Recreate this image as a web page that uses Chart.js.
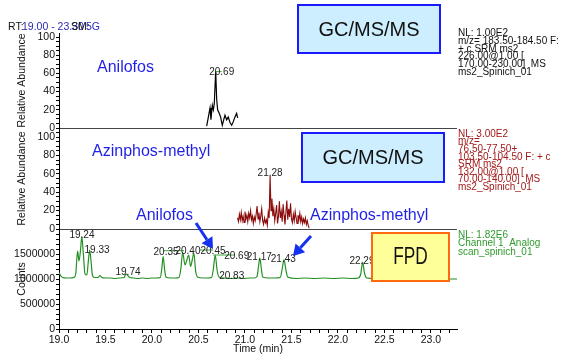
<!DOCTYPE html>
<html>
<head>
<meta charset="utf-8">
<title>GC/MS/MS and FPD chromatograms</title>
<script src="https://cdn.jsdelivr.net/npm/chart.js@4.4.1/dist/chart.umd.min.js"></script>
<style>
  html, body { margin: 0; padding: 0; background: #fff; }
  #wrap { width: 561px; height: 356px; }
</style>
</head>
<body>
<div id="wrap"><canvas id="chromatogram" width="561" height="356"></canvas></div>
<script>
const FONT = '"Liberation Sans", Arial, sans-serif';

// Anilofos SRM trace (relative abundance, %)
const timeAnilofos = [20.588, 20.606, 20.624, 20.634, 20.649, 20.66, 20.67, 20.685, 20.696, 20.706, 20.724, 20.738,
  20.756, 20.771, 20.785, 20.803, 20.82, 20.839, 20.857, 20.874, 20.892, 20.91, 20.921];
const abundAnilofos = [2, 12, 22, 9, 25, 20, 27, 62, 31, 20, 16, 12, 3, 9, 14, 9, 12, 6, 3, 7, 12, 16, 11];

// Azinphos-methyl SRM trace (relative abundance, %)
const timeAzinphos = [20.92, 20.93, 20.94, 20.95, 20.96, 20.97, 20.98, 20.99, 21.00, 21.01, 21.02, 21.03, 21.04,
  21.05, 21.06, 21.07, 21.08, 21.09, 21.10, 21.11, 21.12, 21.13, 21.14, 21.15, 21.16, 21.17, 21.18, 21.19, 21.20,
  21.21, 21.22, 21.23, 21.24, 21.25, 21.26, 21.27, 21.28, 21.29, 21.30, 21.31, 21.32, 21.33, 21.34, 21.35, 21.36,
  21.37, 21.38, 21.39, 21.40, 21.41, 21.42, 21.43, 21.44, 21.45, 21.46, 21.47, 21.48, 21.49, 21.50, 21.51, 21.52,
  21.53, 21.54, 21.55, 21.56, 21.57, 21.58, 21.59, 21.60, 21.61, 21.62, 21.63, 21.64, 21.65, 21.66, 21.67, 21.68, 21.69];
const abundAzinphos = [12, 8, 16, 10, 18, 9, 14, 7, 19, 11, 15, 8, 17,
  12, 20, 10, 14, 6, 13, 9, 16, 25, 11, 18, 8, 14, 22, 9, 5,
  12, 7, 10, 4, 18, 12, 58, 20, 33, 14, 22, 9, 17, 26, 6, 14,
  30, 12, 19, 8, 27, 15, 5, 18, 31, 10, 22, 13, 28, 11, 7, 16,
  9, 19, 12, 6, 15, 10, 17, 8, 13, 6, 11, 7, 12, 5, 9, 4, 1];

// FPD trace (counts)
const timeFpd = [19.00, 19.02, 19.04, 19.08, 19.12, 19.16, 19.18, 19.20, 19.215, 19.23, 19.245, 19.26, 19.28, 19.30,
  19.315, 19.33, 19.345, 19.36, 19.38, 19.42, 19.44, 19.46, 19.50, 19.55, 19.60, 19.65, 19.70, 19.72, 19.745, 19.76,
  19.80, 19.85, 19.90, 19.95, 20.00, 20.05, 20.09, 20.105, 20.12, 20.135, 20.15, 20.20, 20.25, 20.29, 20.31, 20.33,
  20.355, 20.375, 20.395, 20.415, 20.435, 20.45, 20.47, 20.49, 20.55, 20.60, 20.64, 20.66, 20.68, 20.70, 20.72,
  20.78, 20.85, 20.92, 20.98, 21.05, 21.10, 21.13, 21.145, 21.16, 21.175, 21.19, 21.25, 21.32, 21.38, 21.40, 21.42,
  21.44, 21.46, 21.55, 21.65, 21.75, 21.85, 21.95, 22.05, 22.15, 22.22, 22.245, 22.265, 22.285, 22.31, 22.40, 22.50,
  22.60, 22.70, 22.80, 22.90, 23.00, 23.10, 23.20, 23.28];
const countsFpd = [1130000, 1060000, 1030000, 1020000, 1020000, 1030000, 1100000, 1560000, 1360000, 1550000, 1850000,
  1550000, 1100000, 1080000, 1350000, 1580000, 1350000, 1070000, 1030000, 1030000, 1070000, 1030000, 1020000, 1020000,
  1010000, 1020000, 1030000, 1100000, 1060000, 1030000, 1020000, 1010000, 1020000, 1010000, 1020000, 1020000, 1030000,
  1200000, 1450000, 1200000, 1040000, 1020000, 1020000, 1030000, 1200000, 1530000, 1280000, 1380000, 1480000, 1250000,
  1400000, 1520000, 1150000, 1040000, 1020000, 1020000, 1030000, 1200000, 1480000, 1180000, 1040000, 1020000, 1010000,
  1020000, 1010000, 1020000, 1020000, 1050000, 1250000, 1420000, 1220000, 1040000, 1020000, 1020000, 1030000, 1200000,
  1390000, 1180000, 1040000, 1010000, 1020000, 1010000, 1020000, 1010000, 1020000, 1010000, 1020000, 1100000, 1340000,
  1120000, 1020000, 1010000, 1010000, 1010000, 1000000, 1010000, 1000000, 1010000, 1000000, 1000000, 1000000];

// tick labels that are printed (others are minor ticks)
const timeTickLabels = ['19.0', '19.5', '20.0', '20.5', '21.0', '21.5', '22.0', '22.5', '23.0'];
const abundTickLabels = [0, 20, 40, 60, 80, 100];
const countTickLabels = [0, 500000, 1000000, 1500000];

// peak labels (time, height, text)
const anilofosPeaks = [{t: 20.75, v: 61.5, text: '20.69'}];
const azinphosPeaks = [{t: 21.27, v: 61, text: '21.28'}];
const fpdPeaks = [
  {t: 19.247, v: 1880000, text: '19.24'},
  {t: 19.409, v: 1580000, text: '19.33'},
  {t: 19.742, v: 1140000, text: '19.74'},
  {t: 20.151, v: 1540000, text: '20.35'},
  {t: 20.387, v: 1560000, text: '20.40'},
  {t: 20.656, v: 1546000, text: '20.45'},
  {t: 20.911, v: 1460000, text: '20.69'},
  {t: 20.857, v: 1060000, text: '20.83'},
  {t: 21.154, v: 1426000, text: '21.17'},
  {t: 21.412, v: 1394000, text: '21.43'},
  {t: 22.258, v: 1346000, text: '22.29'}
];
// green label leader lines (t1, t2, height)
const anilofosLeaders = [[20.677, 20.749, 62]];
const fpdLeaders = [[20.12, 20.344, 1566000], [20.516, 20.659, 1580000], [20.659, 20.892, 1480000]];

const notesAnilofos = ['NL: 1.00E2', 'm/z= 183.50-184.50 F:', '+ c SRM ms2', '226.00@1.00 [', '170.00-230.00]  MS', 'ms2_Spinich_01'];
const notesAzinphos = ['NL: 3.00E2', 'm/z=', '76.50-77.50+', '103.50-104.50 F: + c', 'SRM ms2', '132.00@1.00 [', '70.00-140.00]  MS', 'ms2_Spinich_01'];
const notesFpd = ['NL: 1.82E6', 'Channel 1  Analog', 'scan_spinich_01'];

const toXY = (ts, vs) => ts.map((t, i) => ({x: t, y: vs[i]}));

function yPanel(max, step, labels, weight, title) {
  return {
    type: 'linear', position: 'left', stack: 'panels', stackWeight: weight,
    min: 0, max: max,
    ticks: {
      stepSize: step, autoSkip: false, includeBounds: false, padding: 1,
      color: '#111', font: {family: FONT, size: 10.5},
      callback: v => labels.includes(Math.round(v)) ? String(Math.round(v)) : ''
    },
    grid: {
      drawOnChartArea: true, tickLength: 3, tickColor: '#000',
      color: c => (c.tick && c.tick.value === 0) ? '#444' : 'rgba(0,0,0,0)'
    },
    border: {color: '#000'},
    title: {display: true, text: title, color: '#111', font: {family: FONT, size: 10.5}, padding: {top: 16, bottom: 0}},
    afterFit(scale) { scale.width = 59; }
  };
}

function arrow(ctx, x1, y1, x2, y2) {
  const a = Math.atan2(y2 - y1, x2 - x1);
  const hl = 11, hw = 6.5;
  const bx = x2 - hl * Math.cos(a), by = y2 - hl * Math.sin(a);
  ctx.strokeStyle = '#1530f0';
  ctx.fillStyle = '#1530f0';
  ctx.lineWidth = 3;
  ctx.beginPath(); ctx.moveTo(x1, y1); ctx.lineTo(bx, by); ctx.stroke();
  ctx.beginPath();
  ctx.moveTo(x2, y2);
  ctx.lineTo(bx + hw * Math.sin(a), by - hw * Math.cos(a));
  ctx.lineTo(bx - hw * Math.sin(a), by + hw * Math.cos(a));
  ctx.closePath(); ctx.fill();
}

function box(ctx, x, y, w, h, fill, stroke) {
  ctx.fillStyle = fill;
  ctx.fillRect(x, y, w, h);
  ctx.strokeStyle = stroke;
  ctx.lineWidth = 2;
  ctx.strokeRect(x, y, w, h);
}

const annotate = {
  id: 'annotate',
  afterDatasetsDraw(chart) {
    const ctx = chart.ctx;
    const sx = chart.scales.x;
    const yA = chart.scales.yAnil, yZ = chart.scales.yAzin, yF = chart.scales.yFpd;
    const right = chart.chartArea.right;
    ctx.save();
    ctx.textBaseline = 'middle';

    // leader lines
    ctx.strokeStyle = '#3aa83a';
    ctx.lineWidth = 1;
    const lead = (l, ys) => {
      ctx.beginPath();
      ctx.moveTo(sx.getPixelForValue(l[0]), ys.getPixelForValue(l[2]));
      ctx.lineTo(sx.getPixelForValue(l[1]), ys.getPixelForValue(l[2]));
      ctx.stroke();
    };
    anilofosLeaders.forEach(l => lead(l, yA));
    fpdLeaders.forEach(l => lead(l, yF));

    // peak labels
    ctx.fillStyle = '#222';
    ctx.textAlign = 'center';
    ctx.font = '10px ' + FONT;
    const peak = (p, ys) => ctx.fillText(p.text, sx.getPixelForValue(p.t), ys.getPixelForValue(p.v));
    anilofosPeaks.forEach(p => peak(p, yA));
    azinphosPeaks.forEach(p => peak(p, yZ));
    fpdPeaks.forEach(p => peak(p, yF));

    // compound names
    ctx.textAlign = 'left';
    ctx.fillStyle = '#1f1fe6';
    ctx.font = '16px ' + FONT;
    ctx.fillText('Anilofos', 97, 68);
    ctx.fillText('Azinphos-methyl', 92, 152);
    ctx.fillText('Anilofos', 136, 216);
    ctx.fillText('Azinphos-methyl', 310, 216);

    // arrows
    arrow(ctx, 196, 223, 213, 249);
    arrow(ctx, 311, 236, 293, 256);

    // boxes
    box(ctx, 298, 5, 142, 48, '#cdeeff', '#1a1aff');
    box(ctx, 302, 133, 142, 49, '#cdeeff', '#1a1aff');
    box(ctx, 372, 233, 77, 48, '#ffff99', '#ff6a10');
    ctx.fillStyle = '#111';
    ctx.textAlign = 'center';
    ctx.font = '20px ' + FONT;
    ctx.fillText('GC/MS/MS', 369, 30);
    ctx.fillText('GC/MS/MS', 373, 158);
    ctx.save();
    ctx.translate(410.5, 257.5);
    ctx.scale(0.72, 1);
    ctx.font = '24px ' + FONT;
    ctx.fillText('FPD', 0, 0);
    ctx.restore();

    // side notes
    ctx.textAlign = 'left';
    ctx.font = '10px ' + FONT;
    ctx.fillStyle = '#111';
    notesAnilofos.forEach((s, i) => ctx.fillText(s, right + 1, yA.top + 0.5 + i * 7.7));
    ctx.fillStyle = '#a31a1a';
    notesAzinphos.forEach((s, i) => ctx.fillText(s, right + 1, yZ.top + 6 + i * 7.6));
    ctx.fillStyle = '#2e9a2e';
    notesFpd.forEach((s, i) => ctx.fillText(s, right + 1, yF.top + 6 + i * 8.6));

    // header
    ctx.font = '10.5px ' + FONT;
    ctx.fillStyle = '#111';
    ctx.fillText('RT:', 8, 27);
    ctx.fillStyle = '#2a2ab8';
    ctx.fillText('19.00 - 23.30', 22, 27);
    ctx.fillStyle = '#111';
    ctx.fillText('SM:', 71, 27);
    ctx.fillStyle = '#2a2ab8';
    ctx.fillText('5G', 86, 27);
    ctx.restore();
  }
};

new Chart(document.getElementById('chromatogram'), {
  type: 'line',
  data: {
    datasets: [
      {data: toXY(timeFpd, countsFpd), yAxisID: 'yFpd', borderColor: '#239023', borderWidth: 1.2, cubicInterpolationMode: 'monotone'},
      {data: toXY(timeAzinphos, abundAzinphos), yAxisID: 'yAzin', borderColor: '#8b0a0a', borderWidth: 1.1},
      {data: toXY(timeAnilofos, abundAnilofos), yAxisID: 'yAnil', borderColor: '#000', borderWidth: 1.2}
    ]
  },
  options: {
    responsive: false,
    animation: false,
    elements: {point: {radius: 0}, line: {tension: 0}},
    layout: {padding: {top: 33, right: 104, bottom: 0, left: 0}},
    plugins: {legend: {display: false}, tooltip: {enabled: false}},
    scales: {
      x: {
        type: 'linear', position: 'bottom', min: 19, max: 23.28,
        ticks: {
          stepSize: 0.1, autoSkip: false, includeBounds: false, maxRotation: 0, padding: 1,
          color: '#111', font: {family: FONT, size: 10.5},
          callback: v => timeTickLabels.includes(v.toFixed(1)) ? v.toFixed(1) : ''
        },
        grid: {drawOnChartArea: false, tickLength: 4, tickColor: '#000'},
        border: {color: '#000'},
        title: {display: true, text: 'Time (min)', color: '#111', font: {family: FONT, size: 10.5}, padding: {top: 0, bottom: 1}},
        afterFit(scale) { scale.height = 27; }
      },
      yFpd: yPanel(2000000, 100000, countTickLabels, 100, 'Counts'),
      yAzin: yPanel(109.8, 5, abundTickLabels, 101, 'Relative Abundance'),
      yAnil: yPanel(104.4, 5, abundTickLabels, 95, 'Relative Abundance')
    }
  },
  plugins: [annotate]
});
</script>
</body>
</html>
